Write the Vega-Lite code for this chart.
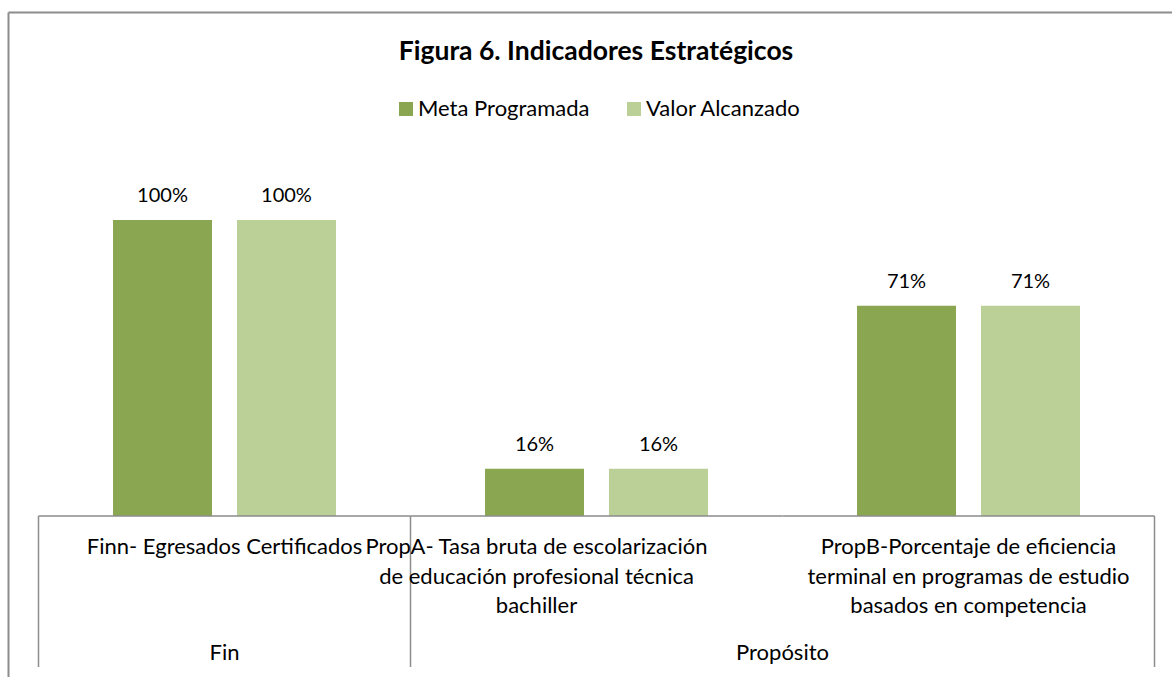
{
  "$schema": "https://vega.github.io/schema/vega-lite/v6.json",
  "width": 1164,
  "height": 665,
  "autosize": {"type": "none"},
  "padding": {"left": 8, "top": 12, "right": 0, "bottom": 0},
  "background": "white",
  "config": {
    "view": {"stroke": null},
    "font": "Lato",
    "text": {"font": "Lato", "color": "#000000"}
  },
  "title": {
    "text": "Figura 6. Indicadores Estratégicos",
    "anchor": "middle",
    "frame": "group",
    "font": "Lato",
    "fontSize": 26.5,
    "fontWeight": "bold",
    "color": "#000000",
    "baseline": "alphabetic",
    "offset": 0,
    "dy": 74,
    "dx": 6
  },
  "datasets": {
    "barras": [
      {"indicador": "Finn- Egresados  Certificados", "grupo": "Fin", "serie": "Meta Programada", "valor": 1.0},
      {"indicador": "Finn- Egresados  Certificados", "grupo": "Fin", "serie": "Valor Alcanzado", "valor": 1.0},
      {"indicador": "PropA- Tasa bruta de escolarización de educación profesional técnica bachiller", "grupo": "Propósito", "serie": "Meta Programada", "valor": 0.16},
      {"indicador": "PropA- Tasa bruta de escolarización de educación profesional técnica bachiller", "grupo": "Propósito", "serie": "Valor Alcanzado", "valor": 0.16},
      {"indicador": "PropB-Porcentaje de eficiencia terminal en programas de estudio basados en competencia", "grupo": "Propósito", "serie": "Meta Programada", "valor": 0.71},
      {"indicador": "PropB-Porcentaje de eficiencia terminal en programas de estudio basados en competencia", "grupo": "Propósito", "serie": "Valor Alcanzado", "valor": 0.71}
    ],
    "indicadores": [
      {"indicador": "Finn- Egresados  Certificados", "grupo": "Fin", "etiqueta": "Finn- Egresados  Certificados"},
      {"indicador": "PropA- Tasa bruta de escolarización de educación profesional técnica bachiller", "grupo": "Propósito", "etiqueta": "PropA- Tasa bruta de escolarización\nde educación profesional técnica\nbachiller"},
      {"indicador": "PropB-Porcentaje de eficiencia terminal en programas de estudio basados en competencia", "grupo": "Propósito", "etiqueta": "PropB-Porcentaje de eficiencia\nterminal en programas de estudio\nbasados en competencia"}
    ]
  },
  "layer": [
    {
      "data": {"name": "barras"},
      "mark": {"type": "bar"},
      "encoding": {
        "x": {
          "field": "indicador", "type": "nominal", "sort": null,
          "scale": {"type": "band", "paddingInner": 0, "paddingOuter": 0.0645161, "align": 0.635417},
          "axis": {"orient": "top", "labels": false, "ticks": false, "title": null, "grid": false, "domainColor": "#8c8c8c", "domainWidth": 2}
        },
        "xOffset": {
          "field": "serie", "type": "nominal", "sort": null,
          "scale": {"paddingInner": 0.2016, "paddingOuter": 0.601}
        },
        "y": {
          "field": "valor", "type": "quantitative",
          "scale": {"domain": [-0.543919, 1.702703], "nice": false, "zero": false},
          "axis": {"orient": "left", "labels": false, "ticks": false, "title": null, "grid": false, "domainColor": "#8c8c8c", "domainWidth": 2}
        },
        "color": {
          "field": "serie", "type": "nominal", "sort": null,
          "scale": {"domain": ["Meta Programada", "Valor Alcanzado"], "range": ["#8ba650", "#bad096"]},
          "legend": {
            "title": null, "orient": "none", "direction": "horizontal",
            "legendX": 387, "legendY": 86, "padding": 0,
            "symbolType": "square", "symbolSize": 196, "symbolStrokeWidth": 0,
            "labelFont": "Lato", "labelFontSize": 22, "labelColor": "#000000",
            "labelOffset": 1, "columnPadding": 33, "labelLimit": 400
          }
        }
      }
    },
    {
      "data": {"name": "barras"},
      "mark": {"type": "text", "baseline": "alphabetic", "dy": -18, "fontSize": 20, "font": "Lato", "color": "#000000"},
      "encoding": {
        "x": {"field": "indicador", "type": "nominal", "sort": null, "scale": {"type": "band", "paddingInner": 0, "paddingOuter": 0.0645161, "align": 0.635417}},
        "xOffset": {"field": "serie", "type": "nominal", "sort": null, "scale": {"paddingInner": 0.2016, "paddingOuter": 0.601}},
        "y": {"field": "valor", "type": "quantitative"},
        "text": {"field": "valor", "type": "quantitative", "format": ".0%"}
      }
    },
    {
      "data": {"name": "indicadores"},
      "mark": {"type": "bar", "fill": "transparent", "stroke": "#8c8c8c", "strokeWidth": 1.5},
      "encoding": {
        "x": {"field": "indicador", "type": "nominal", "sort": null, "scale": {"type": "band", "paddingInner": 0, "paddingOuter": 0.0645161, "align": 0.635417}},
        "y": {"datum": 0, "type": "quantitative"},
        "y2": {"datum": 0}
      }
    },
    {
      "data": {"name": "indicadores"},
      "transform": [
        {"window": [{"op": "row_number", "as": "n"}], "groupby": ["grupo"]},
        {"filter": "datum.n == 1"}
      ],
      "mark": {"type": "rule", "stroke": "#8c8c8c", "strokeWidth": 1.5},
      "encoding": {
        "x": {"field": "indicador", "type": "nominal", "sort": null, "bandPosition": 0, "scale": {"type": "band", "paddingInner": 0, "paddingOuter": 0.0645161, "align": 0.635417}},
        "y": {"datum": 0, "type": "quantitative"},
        "y2": {"datum": -0.5101}
      }
    },
    {
      "data": {"name": "indicadores"},
      "transform": [
        {"window": [{"op": "row_number", "as": "n"}], "frame": [null, null]},
        {"joinaggregate": [{"op": "count", "as": "total"}]},
        {"filter": "datum.n == datum.total"}
      ],
      "mark": {"type": "rule", "stroke": "#8c8c8c", "strokeWidth": 1.5},
      "encoding": {
        "x": {"field": "indicador", "type": "nominal", "sort": null, "bandPosition": 1, "scale": {"type": "band", "paddingInner": 0, "paddingOuter": 0.0645161, "align": 0.635417}},
        "y": {"datum": 0, "type": "quantitative"},
        "y2": {"datum": -0.5101}
      }
    },
    {
      "data": {"name": "indicadores"},
      "transform": [{"filter": "indexof(datum.indicador, 'PropA') != 0"}],
      "mark": {"type": "text", "baseline": "alphabetic", "lineBreak": "\n", "lineHeight": 29.5, "dy": 38, "fontSize": 22, "font": "Lato", "color": "#000000"},
      "encoding": {
        "x": {"field": "indicador", "type": "nominal", "sort": null, "scale": {"type": "band", "paddingInner": 0, "paddingOuter": 0.0645161, "align": 0.635417}},
        "y": {"datum": 0, "type": "quantitative"},
        "text": {"field": "etiqueta"}
      }
    },
    {
      "data": {"name": "indicadores"},
      "transform": [{"filter": "indexof(datum.indicador, 'PropA') == 0"}],
      "mark": {"type": "text", "baseline": "alphabetic", "lineBreak": "\n", "lineHeight": 29.5, "dy": 38, "dx": -60, "fontSize": 22, "font": "Lato", "color": "#000000"},
      "encoding": {
        "x": {"field": "indicador", "type": "nominal", "sort": null, "scale": {"type": "band", "paddingInner": 0, "paddingOuter": 0.0645161, "align": 0.635417}},
        "y": {"datum": 0, "type": "quantitative"},
        "text": {"field": "etiqueta"}
      }
    },
    {
      "data": {"name": "indicadores"},
      "transform": [{"filter": "datum.grupo == 'Fin'"}],
      "mark": {"type": "text", "baseline": "alphabetic", "dy": 144, "fontSize": 22, "font": "Lato", "color": "#000000"},
      "encoding": {
        "x": {"field": "indicador", "type": "nominal", "sort": null, "scale": {"type": "band", "paddingInner": 0, "paddingOuter": 0.0645161, "align": 0.635417}},
        "y": {"datum": 0, "type": "quantitative"},
        "text": {"field": "grupo"}
      }
    },
    {
      "data": {"name": "indicadores"},
      "transform": [{"filter": "indexof(datum.indicador, 'PropA') == 0"}],
      "mark": {"type": "text", "baseline": "alphabetic", "dy": 144, "fontSize": 22, "font": "Lato", "color": "#000000"},
      "encoding": {
        "x": {"field": "indicador", "type": "nominal", "sort": null, "bandPosition": 1, "scale": {"type": "band", "paddingInner": 0, "paddingOuter": 0.0645161, "align": 0.635417}},
        "y": {"datum": 0, "type": "quantitative"},
        "text": {"field": "grupo"}
      }
    }
  ]
}
